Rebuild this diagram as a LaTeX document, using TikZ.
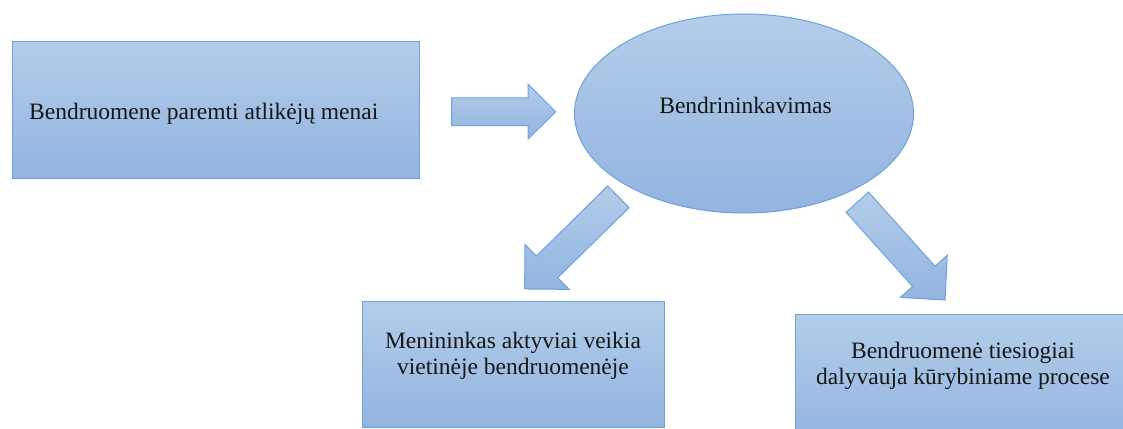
\documentclass[tikz,border=0pt]{standalone}
\usepackage{fontspec}
\setmainfont{Liberation Serif}
\usetikzlibrary{calc,shapes.geometric}
\definecolor{fillTop}{HTML}{B3CDEA}
\definecolor{fillBot}{HTML}{92B4E0}
\definecolor{edgeBlue}{HTML}{6FA2DA}
\definecolor{txt}{HTML}{161616}
\tikzset{
  blueshape/.style={draw=edgeBlue, line width=1pt, top color=fillTop, bottom color=fillBot},
  lbl/.style={inner sep=0pt, text=txt, font=\fontsize{23.5}{26.5}\selectfont},
  blockarrow/.style={blueshape, line join=miter}
}
\begin{document}
\begin{tikzpicture}[x=1pt, y=-1pt]
\clip (0,0) rectangle (1123,428);
\fill[white] (0,0) rectangle (1123,428);

% boxes
\node[blueshape, minimum width=407.5pt, minimum height=137pt, inner sep=0pt, anchor=north west] (b1) at (11.5,41) {};
\node[lbl, anchor=base west] (t1) at (29,119) {Bendruomene paremti atlikėjų menai};

\node[blueshape, ellipse, minimum width=339pt, minimum height=199pt, inner sep=0pt] (e) at (744,113.5) {};
\node[lbl, anchor=base] (te) at (745.5,113) {Bendrininkavimas};

\node[blueshape, minimum width=302pt, minimum height=126pt, inner sep=0pt, anchor=north west] (b2) at (362,301) {};
\node[lbl, align=center] (t2) at (513,355.8) {Menininkas aktyviai veikia\\vietinėje bendruomenėje};

\node[blueshape, minimum width=336pt, minimum height=130pt, inner sep=0pt, anchor=north west] (b3) at (795,314) {};
\node[lbl, align=center] (t3) at (963,365.8) {Bendruomenė tiesiogiai\\dalyvauja kūrybiniame procese};

% block arrows: tail centre coordinates
\coordinate (a1) at (451.7,111.7);
\coordinate (a2) at (618.4,196.8);
\coordinate (a3) at (857.3,202.2);

\begin{scope}[shift={(a1)}]
\draw[blockarrow] (0,-13.8) -- (76.3,-13.8) -- (76.3,-27.5) -- (104,0) -- (76.3,27.5) -- (76.3,13.8) -- (0,13.8) -- cycle;
\end{scope}
\begin{scope}[shift={(a2)}, rotate=224.5]
\draw[blockarrow] (0,-15.2) -- (100,-15.2) -- (100,-31.5) -- (131.5,0) -- (100,31.5) -- (100,15.2) -- (0,15.2) -- cycle;
\end{scope}
\begin{scope}[shift={(a3)}, rotate=-48.1]
\draw[blockarrow] (0,-15.1) -- (99.6,-15.1) -- (99.6,-31.5) -- (131.4,0) -- (99.6,31.5) -- (99.6,15.1) -- (0,15.1) -- cycle;
\end{scope}
\end{tikzpicture}
\end{document}
